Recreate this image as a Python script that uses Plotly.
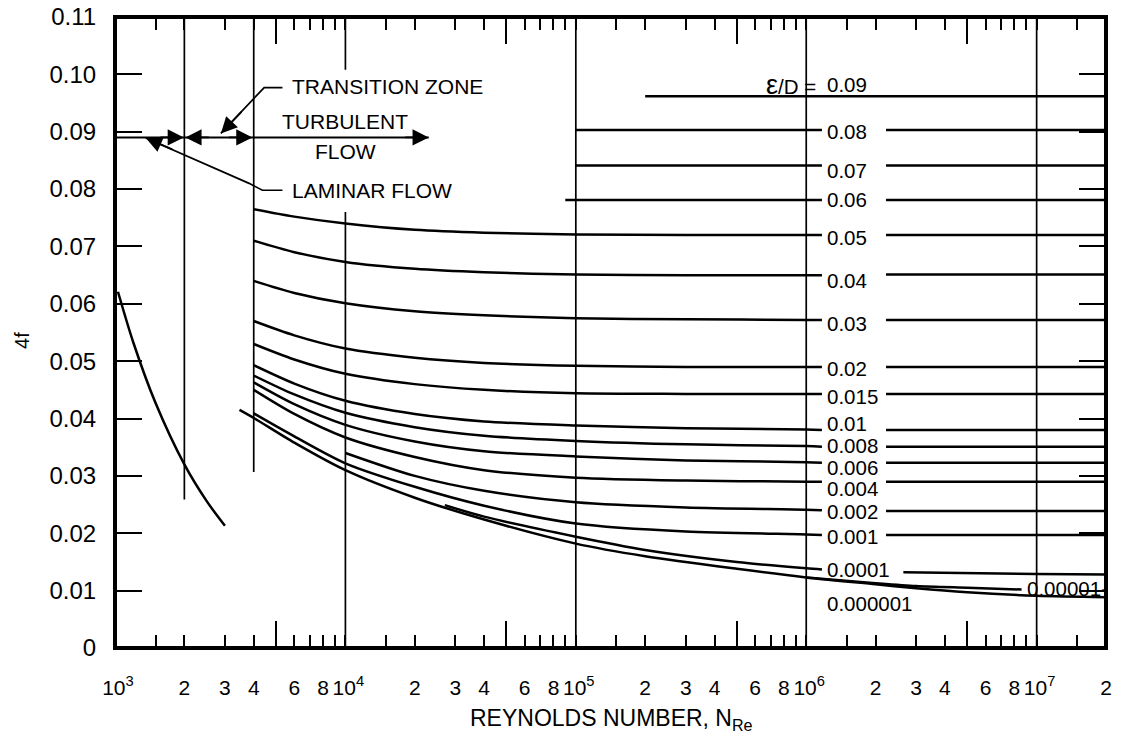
import numpy as np
import plotly.graph_objects as go

# ---------------- data ----------------
# laminar flow line
re_laminar = [1030, 1200, 1500, 2000, 2500, 3000]
f_laminar = [0.0621, 0.0533, 0.0427, 0.0320, 0.0256, 0.0213]

# turbulent curves: left part (up to the label gap) and right part (after the label)
re_left = [4000, 6000, 10000, 20000, 40000, 100000, 300000, 1000000, 1170000]
re_right = [2220000, 20000000]

f_0_05 = [0.0765, 0.0752, 0.0740, 0.0729, 0.0724, 0.0721, 0.0720, 0.0720, 0.0720]
f_0_05_r = [0.0720, 0.0720]
f_0_04 = [0.0710, 0.0690, 0.0673, 0.0661, 0.0655, 0.0651, 0.0650, 0.0650, 0.0650]
f_0_04_r = [0.0651, 0.0651]
f_0_03 = [0.0640, 0.0619, 0.0601, 0.0587, 0.0580, 0.0575, 0.0573, 0.0572, 0.0572]
f_0_03_r = [0.0572, 0.0572]
f_0_02 = [0.0570, 0.0545, 0.0522, 0.0506, 0.0497, 0.0492, 0.0490, 0.0490, 0.0490]
f_0_02_r = [0.0490, 0.0490]
f_0_015 = [0.0530, 0.0503, 0.0478, 0.0460, 0.0450, 0.0444, 0.0443, 0.0443, 0.0443]
f_0_015_r = [0.0443, 0.0443]
f_0_01 = [0.0493, 0.0461, 0.0431, 0.0408, 0.0395, 0.0388, 0.0383, 0.0381, 0.0380]
f_0_01_r = [0.0380, 0.0380]
f_0_008 = [0.0475, 0.0442, 0.0410, 0.0385, 0.0370, 0.0361, 0.0355, 0.0352, 0.0351]
f_0_008_r = [0.0351, 0.0351]
f_0_006 = [0.0463, 0.0425, 0.0389, 0.0360, 0.0343, 0.0334, 0.0327, 0.0324, 0.0323]
f_0_006_r = [0.0323, 0.0323]
f_0_004 = [0.0450, 0.0408, 0.0367, 0.0333, 0.0310, 0.0297, 0.0292, 0.0290, 0.0290]
f_0_004_r = [0.0290, 0.0290]
f_0_001 = [0.0409, 0.0369, 0.0322, 0.0281, 0.0248, 0.0217, 0.0203, 0.0198, 0.0197]
f_0_001_r = [0.0197, 0.0197]

re_0_002 = [10000, 20000, 40000, 100000, 300000, 1000000, 1170000]
f_0_002 = [0.0340, 0.0300, 0.0274, 0.0254, 0.0245, 0.0241, 0.0240]
f_0_002_r = [0.0239, 0.0239]

re_0_0001 = [27000, 40000, 100000, 200000, 500000, 1000000, 1170000]
f_0_0001 = [0.0249, 0.0229, 0.0194, 0.0171, 0.0150, 0.0139, 0.0137]
re_0_0001_r = [2640000, 10000000, 20000000]
f_0_0001_r = [0.0132, 0.0129, 0.0128]

re_0_00001 = [1000000, 2000000, 3000000, 5000000, 8600000]
f_0_00001 = [0.0123, 0.0113, 0.0108, 0.0105, 0.0102]

re_smooth = [3470, 4000, 6000, 10000, 20000, 40000, 100000, 200000, 500000,
             1000000, 2000000, 3000000, 5000000, 10000000, 20000000]
f_smooth = [0.0415, 0.0401, 0.0358, 0.0310, 0.0262, 0.0224, 0.0182, 0.0160, 0.0138,
            0.0123, 0.0111, 0.0104, 0.0097, 0.0091, 0.00885]

# fully rough horizontal lines
rough_eps = ["0.08", "0.07", "0.06"]
rough_f = [0.0903, 0.0841, 0.0781]
rough_start = [100000, 100000, 90000]
f_0_09 = 0.0962
re_0_09 = [200000, 20000000]

# vertical reference lines
vline_re = [2000, 4000, 10000, 100000, 1000000, 10000000]
vline_bottom = [0.0259, 0.0307, 0.0, 0.0, 0.0, 0.0]
vline_top = [0.11, 0.11, 0.0760, 0.11, 0.11, 0.11]

# curve labels (epsilon/D)
label_text = ["0.09", "0.08", "0.07", "0.06", "0.05", "0.04", "0.03", "0.02", "0.015",
              "0.01", "0.008", "0.006", "0.004", "0.002", "0.001", "0.0001"]
label_y = [0.0982, 0.0900, 0.0833, 0.0781, 0.0716, 0.0641, 0.0565, 0.0488, 0.0438,
           0.0392, 0.0353, 0.0315, 0.0278, 0.0238, 0.0194, 0.0136]

y_ticks = [0, 0.01, 0.02, 0.03, 0.04, 0.05, 0.06, 0.07, 0.08, 0.09, 0.10, 0.11]
y_ticktext = ["0", "0.01", "0.02", "0.03", "0.04", "0.05", "0.06", "0.07", "0.08",
              "0.09", "0.10", "0.11"]

# ---------------- figure ----------------
FONT = "Liberation Sans, Arial, Helvetica, sans-serif"
LW = 2.5
fig = go.Figure()


def add_line(x, y, width=LW, spline=True):
    fig.add_trace(go.Scatter(
        x=x, y=y, mode="lines",
        line=dict(color="black", width=width, shape="spline" if spline else "linear",
                  smoothing=0.8),
        hoverinfo="skip", showlegend=False))


add_line(re_laminar, f_laminar)
for fl, fr in [(f_0_05, f_0_05_r), (f_0_04, f_0_04_r), (f_0_03, f_0_03_r),
               (f_0_02, f_0_02_r), (f_0_015, f_0_015_r), (f_0_01, f_0_01_r),
               (f_0_008, f_0_008_r), (f_0_006, f_0_006_r), (f_0_004, f_0_004_r),
               (f_0_001, f_0_001_r)]:
    add_line(re_left, fl)
    add_line(re_right, fr, spline=False)
add_line(re_0_002, f_0_002)
add_line(re_right, f_0_002_r, spline=False)
add_line(re_0_0001, f_0_0001)
add_line(re_0_0001_r, f_0_0001_r)
add_line(re_0_00001, f_0_00001)
add_line(re_smooth, f_smooth)

for f, s in zip(rough_f, rough_start):
    add_line([s, re_left[-1]], [f, f], spline=False)
    add_line(re_right, [f, f], spline=False)
add_line(re_0_09, [f_0_09, f_0_09], spline=False)

for r, b, t in zip(vline_re, vline_bottom, vline_top):
    add_line([r, r], [b, t], width=1.7, spline=False)
# long top tick at 10^4
add_line([10000, 10000], [0.1008, 0.11], width=1.7, spline=False)

# flow regime arrow line
add_line([1000, 23000], [0.0890, 0.0890], width=1.9, spline=False)
# transition zone leader
add_line([5330, 4440, 2880], [0.0977, 0.0977, 0.0897], width=1.7, spline=False)
# laminar flow leader
add_line([5330, 4360, 3820, 1360], [0.0798, 0.0798, 0.0810, 0.0889], width=1.7, spline=False)

lg = np.log10
ann = []


def head(xre, y, ax, ay):
    ann.append(dict(x=lg(xre), y=y, xref="x", yref="y", text="", showarrow=True,
                    arrowhead=2, arrowsize=1.8, arrowwidth=1.8, arrowcolor="black",
                    ax=ax, ay=ay, standoff=0))


head(1990, 0.0890, -25, 0)
head(2020, 0.0890, 25, 0)
head(3950, 0.0890, -25, 0)
head(23000, 0.0890, -25, 0)
head(2880, 0.0897, 22, -23)
head(1360, 0.0889, 28, 12)


def text(xre, y, s, size=20.5, anchor="left"):
    ann.append(dict(x=lg(xre), y=y, xref="x", yref="y", text=s, showarrow=False,
                    xanchor=anchor, yanchor="middle",
                    font=dict(family=FONT, size=size, color="black")))


text(5750, 0.0978, "TRANSITION ZONE", size=21)
text(10000, 0.0917, "TURBULENT", size=21, anchor="center")
text(10000, 0.0866, "FLOW", size=21, anchor="center")
text(5750, 0.0798, "LAMINAR FLOW", size=21)
text(1120000, 0.0982, "<span style='font-size:27px'>ε</span>/D =", anchor="right")
for s, y in zip(label_text, label_y):
    text(1210000, y, s)
text(8900000, 0.0104, "0.00001-")
text(1210000, 0.0077, "0.000001")

ann.append(dict(x=0.5015, y=-0.114, xref="paper", yref="paper", showarrow=False,
                text="REYNOLDS NUMBER, N<sub>Re</sub>", yanchor="middle",
                font=dict(family=FONT, size=23, color="black")))
ann.append(dict(x=-0.094, y=0.488, xref="paper", yref="paper", showarrow=False,
                text="4f", textangle=-90, xanchor="center", yanchor="middle",
                font=dict(family=FONT, size=20, color="black")))

# x ticks
x_tickvals, x_ticktext, x_minor = [], [], []
for n in range(3, 8):
    for m, lab in [(1, "\u00a010<sup>%d</sup>" % n), (1.5, ""), (2, "2"), (3, "3"),
                   (4, "4"), (6, "6"), (7, ""), (8, "8"), (9, "")]:
        v = m * 10 ** n
        if v <= 2.0e7 + 1:
            x_tickvals.append(v)
            x_ticktext.append(lab)
    if 5 * 10 ** n < 2e7:
        x_minor.append(5 * 10 ** n)

# page body has an 8px margin, so the figure is 8px smaller than the window
fig.update_layout(
    width=1113, height=730,
    margin=dict(l=107, r=15, t=9, b=90, autoexpand=False),
    paper_bgcolor="white", plot_bgcolor="white",
    font=dict(family=FONT, size=20, color="black"),
    annotations=ann,
    shapes=[dict(type="rect", xref="paper", yref="paper", x0=0, x1=1, y0=0, y1=1,
                 line=dict(color="black", width=4), layer="above")],
)
fig.update_xaxes(type="log", range=[3, lg(2e7)], showgrid=False, zeroline=False,
                 automargin=False, tickangle=0, ticklabeloverflow="allow",
                 showline=True, linecolor="black", linewidth=1, mirror="ticks",
                 ticks="inside", ticklen=13, tickwidth=1.5, tickcolor="black",
                 tickvals=x_tickvals, ticktext=x_ticktext, ticklabelstandoff=21,
                 tickfont=dict(family=FONT, size=21),
                 minor=dict(tickvals=x_minor, ticks="inside", ticklen=27,
                            tickwidth=1.5, tickcolor="black", showgrid=False))
fig.update_yaxes(range=[0, 0.11], showgrid=False, zeroline=False,
                 automargin=False, ticklabeloverflow="allow",
                 showline=True, linecolor="black", linewidth=1, mirror="ticks",
                 ticks="inside", ticklen=27, tickwidth=1.5, tickcolor="black",
                 tickvals=y_ticks, ticktext=y_ticktext, ticklabelstandoff=13,
                 tickfont=dict(family=FONT, size=24))

fig.write_html("out.html")
